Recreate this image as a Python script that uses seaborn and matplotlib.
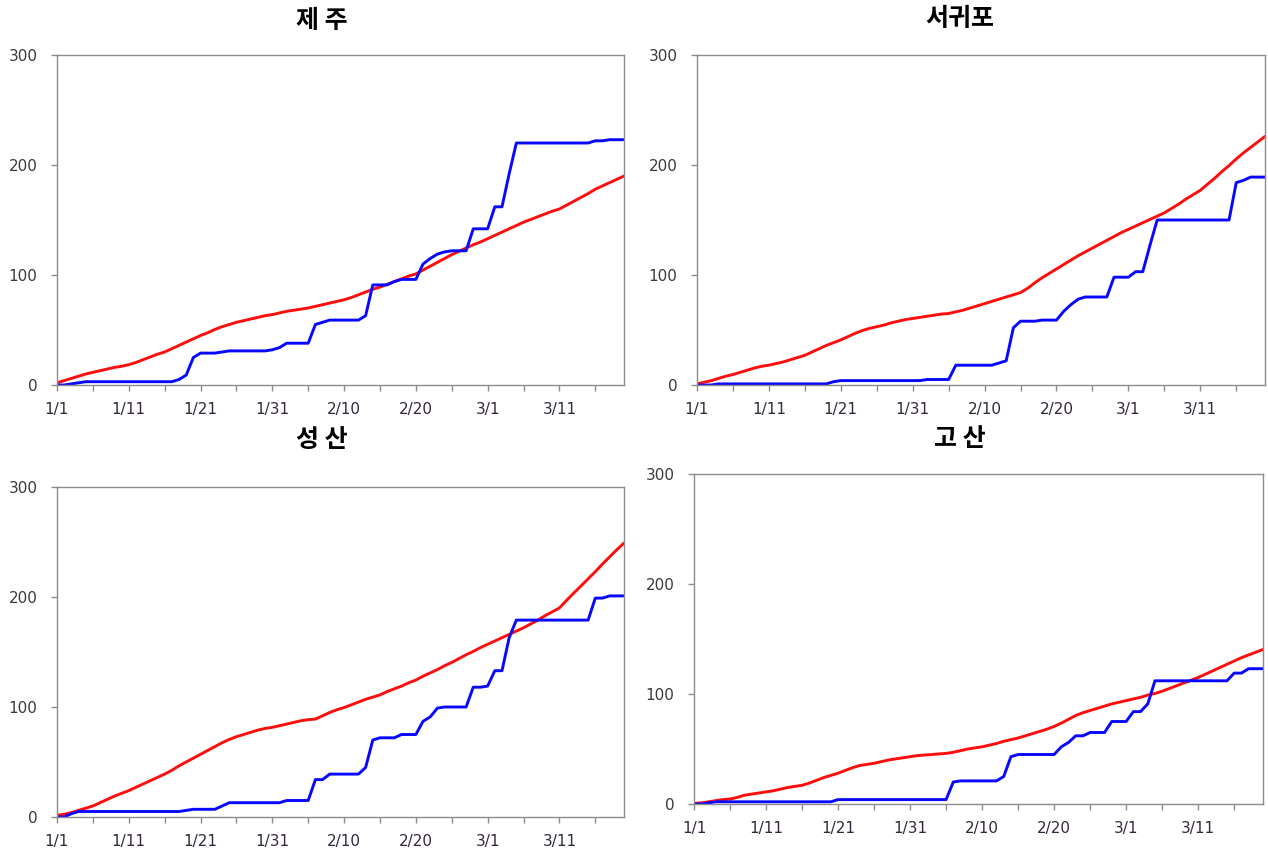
import matplotlib
matplotlib.use("Agg")
import matplotlib.pyplot as plt
import seaborn as sns
import pandas as pd

# day index 0 = 1/1 ... 79 = 3/21
days = list(range(80))
tick_days = [0, 10, 20, 30, 40, 50, 60, 70]
tick_labels = ['1/1', '1/11', '1/21', '1/31', '2/10', '2/20', '3/1', '3/11']
stations = ['제 주', '서귀포', '성 산', '고 산']

# red: normal cumulative, blue: this year cumulative
jeju_red = [2, 4, 6, 8, 10, 11.5, 13, 14.5, 16, 17,
            18.5, 20.5, 23, 25.5, 28, 30, 33, 36, 39, 42,
            45, 47.5, 50.5, 53, 55, 57, 58.5, 60, 61.5, 63,
            64, 65.5, 67, 68, 69, 70, 71.5, 73, 74.5, 76,
            77.5, 79.5, 82, 84.5, 87, 89, 91.5, 94, 96.5, 99,
            101, 104.5, 108, 111.5, 115, 118.5, 121.5, 124.5, 127.5, 130,
            133, 136, 139, 142, 145, 148, 150.5, 153, 155.5, 158,
            160, 163.5, 167, 170.5, 174, 178, 181, 184, 187, 190]
jeju_blue = [0, 0, 1, 2, 3, 3, 3, 3, 3, 3,
             3, 3, 3, 3, 3, 3, 3, 5, 9, 25,
             29, 29, 29, 30, 31, 31, 31, 31, 31, 31,
             32, 34, 38, 38, 38, 38, 55, 57, 59, 59,
             59, 59, 59, 63, 91, 91, 91, 94, 96, 96,
             96, 110, 115, 119, 121, 122, 122, 122, 142, 142,
             142, 162, 162, 192, 220, 220, 220, 220, 220, 220,
             220, 220, 220, 220, 220, 222, 222, 223, 223, 223]

seogwipo_red = [1, 2.5, 4, 6, 8, 9.5, 11.5, 13.5, 15.5, 17,
                18, 19.5, 21, 23, 25, 27, 30, 33, 36, 38.5,
                41, 44, 47, 49.5, 51.5, 53, 54.5, 56.5, 58, 59.5,
                60.5, 61.5, 62.5, 63.5, 64.5, 65, 66.5, 68, 70, 72,
                74, 76, 78, 80, 82, 84, 88, 93, 97.5, 101.5,
                105.5, 109.5, 113.5, 117.5, 121, 124.5, 128, 131.5, 135, 138.5,
                141.5, 144.5, 147.5, 150.5, 153.5, 156.5, 160.5, 164.5, 169, 173,
                177, 182.5, 188, 194, 199.5, 205.5, 211, 216, 221, 226]
seogwipo_blue = [0, 0, 0, 1, 1, 1, 1, 1, 1, 1,
                 1, 1, 1, 1, 1, 1, 1, 1, 1, 3,
                 4, 4, 4, 4, 4, 4, 4, 4, 4, 4,
                 4, 4, 5, 5, 5, 5, 18, 18, 18, 18,
                 18, 18, 20, 22, 52, 58, 58, 58, 59, 59,
                 59, 67, 73, 78, 80, 80, 80, 80, 98, 98,
                 98, 103, 103, 127, 150, 150, 150, 150, 150, 150,
                 150, 150, 150, 150, 150, 184, 186, 189, 189, 189]

seongsan_red = [1.5, 2.5, 4, 6, 8, 10, 13, 16, 19, 21.5,
                24, 27, 30, 33, 36, 39, 42.5, 46.5, 50, 53.5,
                57, 60.5, 64, 67.5, 70.5, 73, 75, 77, 79, 80.5,
                81.5, 83, 84.5, 86, 87.5, 88.5, 89, 92, 95, 97.5,
                99.5, 102, 104.5, 107, 109, 111, 114, 116.5, 119, 122,
                124.5, 128, 131, 134, 137.5, 140.5, 144, 147.5, 150.5, 154,
                157, 160, 163, 166, 169, 172, 175.5, 179, 183, 186.5,
                190, 197, 203.5, 210, 216.5, 223, 230, 236.5, 243, 249]
seongsan_blue = [0, 0, 3, 5, 5, 5, 5, 5, 5, 5,
                 5, 5, 5, 5, 5, 5, 5, 5, 6, 7,
                 7, 7, 7, 10, 13, 13, 13, 13, 13, 13,
                 13, 13, 15, 15, 15, 15, 34, 34, 39, 39,
                 39, 39, 39, 45, 70, 72, 72, 72, 75, 75,
                 75, 87, 91, 99, 100, 100, 100, 100, 118, 118,
                 119, 133, 133, 163, 179, 179, 179, 179, 179, 179,
                 179, 179, 179, 179, 179, 199, 199, 201, 201, 201]

gosan_red = [0.5, 1, 2, 3, 4, 4.5, 6, 8, 9, 10,
             11, 12, 13.5, 15, 16, 17, 19, 21.5, 24, 26,
             28, 30.5, 33, 35, 36, 37, 38.5, 40, 41, 42,
             43, 44, 44.5, 45, 45.5, 46, 47, 48.5, 50, 51,
             52, 53.5, 55, 57, 58.5, 60, 62, 64, 66, 68,
             70.5, 73.5, 77, 80.5, 83, 85, 87, 89, 91, 92.5,
             94, 95.5, 97, 99, 100.5, 102.5, 105, 107.5, 110, 112.5,
             115, 118, 121, 124, 127, 130, 133, 135.5, 138, 140.5]
gosan_blue = [0, 0, 1, 2, 2, 2, 2, 2, 2, 2,
              2, 2, 2, 2, 2, 2, 2, 2, 2, 2,
              4, 4, 4, 4, 4, 4, 4, 4, 4, 4,
              4, 4, 4, 4, 4, 4, 20, 21, 21, 21,
              21, 21, 21, 25, 43, 45, 45, 45, 45, 45,
              45, 52, 56, 62, 62, 65, 65, 65, 75, 75,
              75, 84, 84, 91, 112, 112, 112, 112, 112, 112,
              112, 112, 112, 112, 112, 119, 119, 123, 123, 123]

reds = [jeju_red, seogwipo_red, seongsan_red, gosan_red]
blues = [jeju_blue, seogwipo_blue, seongsan_blue, gosan_blue]

sns.set_style('white')
plt.rcParams['font.family'] = ['DejaVu Sans', 'Noto Sans CJK KR']

fig = plt.figure(figsize=(12.68, 8.57), dpi=100)
W, H = 1268, 857
# plot areas in pixels: left, top, right, bottom
boxes = [(57, 55, 624, 385), (697, 55, 1265, 385),
         (57, 487, 624, 817), (694, 474, 1263, 804)]
title_pos = [(322, 21), (960, 19), (322, 440), (960, 439)]

for i in range(4):
    l, t, r, b = boxes[i]
    ax = fig.add_axes([l / W, 1 - b / H, (r - l) / W, (b - t) / H])
    df = pd.DataFrame({'day': days * 2,
                       'value': reds[i] + blues[i],
                       'series': ['red'] * 80 + ['blue'] * 80})
    sns.lineplot(data=df, x='day', y='value', hue='series',
                 palette={'red': '#ff0d0d', 'blue': '#0808ff'},
                 linewidth=2.1, legend=False, ax=ax)
    ax.set_xlim(0, 79)
    ax.set_ylim(0, 300)
    ax.set_xticks(tick_days)
    ax.set_xticklabels(tick_labels)
    ax.set_xticks(range(5, 80, 10), minor=True)
    ax.set_yticks([0, 100, 200, 300])
    ax.set_xlabel('')
    ax.set_ylabel('')
    for s in ax.spines.values():
        s.set_color('#8c8c8c')
        s.set_linewidth(1.0)
    ax.tick_params(axis='x', which='both', direction='out', length=4,
                   width=1, color='#8c8c8c', bottom=True)
    ax.tick_params(axis='x', which='major', pad=8, labelsize=11,
                   labelcolor='#33283a')
    ax.tick_params(axis='y', direction='out', length=4, width=1,
                   color='#8c8c8c', left=True, pad=10, labelsize=11,
                   labelcolor='#3a3a3a')
    fig.text(title_pos[i][0] / W, 1 - title_pos[i][1] / H, stations[i],
             ha='center', va='center', fontsize=18, fontweight='bold',
             color='black', family=['Noto Sans CJK KR'])

fig.savefig('out.png', dpi=100)
